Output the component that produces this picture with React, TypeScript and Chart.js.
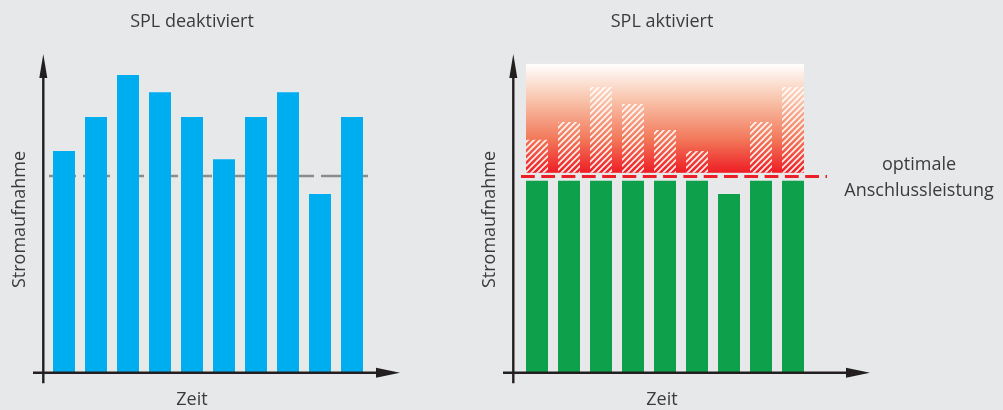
import { useEffect, useRef } from 'react';
import { Chart, registerables } from 'chart.js';

Chart.register(...registerables);

// ---- data ----
const slotsOff = ['t1', 't2', 't3', 't4', 't5', 't6', 't7', 't8', 't9', 't10'];
const demandOff = [69.8, 80.5, 93.7, 88.3, 80.5, 67.2, 80.5, 88.3, 56.2, 80.5];
const averageOff = 61.9;

const slotsOn = ['t1', 't2', 't3', 't4', 't5', 't6', 't7', 't8', 't9'];
const supplyOn = [60.4, 60.4, 60.4, 60.4, 60.4, 60.4, 56.2, 60.4, 60.4];
const peakOn: (number | null)[] = [73.3, 78.9, 89.9, 84.6, 76.4, 69.8, null, 78.9, 89.9];
const limitOn = 61.7;
const zoneRange = [62.9, 97.2];

const titles = ['SPL deaktiviert', 'SPL aktiviert'];
const yTitle = 'Stromaufnahme';
const xTitle = 'Zeit';
const limitLabel = ['optimale', 'Anschlussleistung'];

const BG = '#e7e8ea';
const TEXT = '#3b3b3b';
const FONT = '18px "Open Sans", "Noto Sans", sans-serif';

function makeHatch(): CanvasPattern | string {
  const s = 6;
  const c = document.createElement('canvas');
  c.width = s;
  c.height = s;
  const g = c.getContext('2d');
  if (!g) return 'rgba(255,255,255,0.5)';
  g.strokeStyle = 'rgba(255,255,255,0.92)';
  g.lineWidth = 1.6;
  g.beginPath();
  g.moveTo(0, s);
  g.lineTo(s, 0);
  g.moveTo(-1, 1);
  g.lineTo(1, -1);
  g.moveTo(s - 1, s + 1);
  g.lineTo(s + 1, s - 1);
  g.stroke();
  const p = g.createPattern(c, 'repeat');
  return p || 'rgba(255,255,255,0.5)';
}

const panelPlugin = {
  id: 'panel',
  beforeDatasetsDraw(chart: any, _args: any, opts: any) {
    const { ctx, chartArea } = chart;
    const ys = chart.scales.y;
    ctx.save();
    if (opts.zone) {
      const meta = chart.getDatasetMeta(0);
      const first = meta.data[0];
      const last = meta.data[meta.data.length - 1];
      const x0 = first.x - first.width / 2;
      const x1 = last.x + last.width / 2;
      const yTop = ys.getPixelForValue(opts.zone[1]);
      const yBot = ys.getPixelForValue(opts.zone[0]);
      const grad = ctx.createLinearGradient(0, yTop, 0, yBot);
      grad.addColorStop(0, '#ffffff');
      grad.addColorStop(0.33, '#f9c4ab');
      grad.addColorStop(0.7, '#f27658');
      grad.addColorStop(1, '#ee1d25');
      ctx.fillStyle = grad;
      ctx.fillRect(x0, yTop, x1 - x0, yBot - yTop);
    }
    if (opts.average != null) {
      const y = ys.getPixelForValue(opts.average);
      ctx.strokeStyle = '#8c8c8c';
      ctx.lineWidth = 2.5;
      ctx.setLineDash([27, 7]);
      ctx.beginPath();
      ctx.moveTo(chartArea.left + 1, y);
      ctx.lineTo(chartArea.right, y);
      ctx.stroke();
    }
    ctx.restore();
  },
  afterDatasetsDraw(chart: any, _args: any, opts: any) {
    const { ctx, chartArea } = chart;
    const ys = chart.scales.y;
    ctx.save();
    if (opts.limit != null) {
      const y = ys.getPixelForValue(opts.limit);
      ctx.strokeStyle = '#ec1f27';
      ctx.lineWidth = 3;
      ctx.setLineDash([13.8, 6.5]);
      ctx.beginPath();
      ctx.moveTo(chartArea.left, y);
      ctx.lineTo(chartArea.right + 18, y);
      ctx.stroke();
      ctx.setLineDash([]);
    }
    // axes with arrows
    const ax = 43.3;
    const ay = chartArea.bottom + 0.3;
    const tipY = chartArea.top - 1;
    const tipX = 400;
    ctx.strokeStyle = '#231f20';
    ctx.fillStyle = '#231f20';
    ctx.lineWidth = 2.4;
    ctx.beginPath();
    ctx.moveTo(ax, ay + 10.5);
    ctx.lineTo(ax, tipY + 20);
    ctx.stroke();
    ctx.beginPath();
    ctx.moveTo(ax, tipY);
    ctx.lineTo(ax - 4, tipY + 24);
    ctx.lineTo(ax + 4, tipY + 24);
    ctx.closePath();
    ctx.fill();
    ctx.beginPath();
    ctx.moveTo(33, ay);
    ctx.lineTo(tipX - 20, ay);
    ctx.stroke();
    ctx.beginPath();
    ctx.moveTo(tipX, ay);
    ctx.lineTo(tipX - 24, ay - 5);
    ctx.lineTo(tipX - 24, ay + 5);
    ctx.closePath();
    ctx.fill();
    // texts
    ctx.fillStyle = TEXT;
    ctx.font = FONT;
    ctx.textAlign = 'center';
    ctx.textBaseline = 'alphabetic';
    ctx.fillText(opts.title, 192, 27);
    ctx.fillText(xTitle, 192, 405);
    if (opts.label) {
      ctx.fillText(opts.label[0], 449, 170);
      ctx.fillText(opts.label[1], 449, 196);
    }
    ctx.save();
    ctx.translate(25, 219.5);
    ctx.rotate(-Math.PI / 2);
    ctx.fillText(yTitle, 0, 0);
    ctx.restore();
    ctx.restore();
  },
};

function baseOptions(padding: any, panel: any) {
  return {
    responsive: false,
    animation: false as const,
    events: [],
    layout: { padding },
    plugins: {
      legend: { display: false },
      tooltip: { enabled: false },
      title: { display: false },
      panel,
    },
    scales: {
      x: { display: false, offset: true },
      y: { display: false, min: 0, max: 100 },
    },
  };
}

export default function App() {
  const leftRef = useRef<HTMLCanvasElement>(null);
  const rightRef = useRef<HTMLCanvasElement>(null);

  useEffect(() => {
    document.body.style.margin = '0';
    document.body.style.background = BG;
    if (!leftRef.current || !rightRef.current) return;

    const left = new Chart(leftRef.current, {
      type: 'bar',
      data: {
        labels: slotsOff,
        datasets: [
          {
            data: demandOff,
            backgroundColor: '#00aeef',
            borderWidth: 0,
            barPercentage: 22 / 32,
            categoryPercentage: 1,
          },
        ],
      },
      options: baseOptions(
        { left: 48, right: 102, top: 55, bottom: 37.5 },
        { title: titles[0], average: averageOff }
      ) as any,
      plugins: [panelPlugin],
    });

    const hatch = makeHatch();
    const right = new Chart(rightRef.current, {
      type: 'bar',
      data: {
        labels: slotsOn,
        datasets: [
          {
            data: supplyOn,
            backgroundColor: '#0ea04b',
            borderWidth: 0,
            barPercentage: 22 / 32,
            categoryPercentage: 1,
            grouped: false,
          } as any,
          {
            data: peakOn.map((v) => (v == null ? null : [zoneRange[0], v])),
            backgroundColor: hatch,
            borderWidth: 0,
            barPercentage: 22 / 32,
            categoryPercentage: 1,
            grouped: false,
          } as any,
        ],
      },
      options: baseOptions(
        { left: 51, right: 194, top: 55, bottom: 37.5 },
        { title: titles[1], limit: limitOn, zone: zoneRange, label: limitLabel }
      ) as any,
      plugins: [panelPlugin],
    });

    return () => {
      left.destroy();
      right.destroy();
    };
  }, []);

  return (
    <div
      style={{
        position: 'absolute',
        left: 0,
        top: 0,
        width: 1003,
        height: 410,
        background: BG,
        display: 'flex',
      }}
    >
      <canvas ref={leftRef} width={470} height={410} style={{ display: 'block' }} />
      <canvas ref={rightRef} width={533} height={410} style={{ display: 'block' }} />
    </div>
  );
}
